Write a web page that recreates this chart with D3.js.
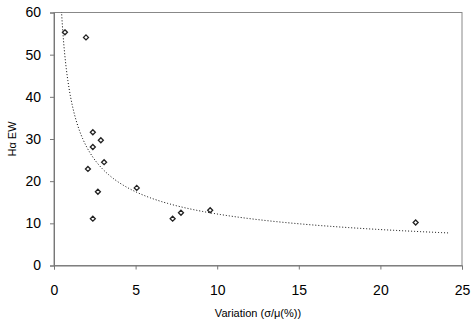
<!DOCTYPE html>
<html lang="en">
<head>
<meta charset="utf-8">
<title>Halpha EW vs variation</title>
<script src="https://d3js.org/d3.v7.min.js"></script>
<style>
  body { margin: 0; background: #fff; }
  text { font-family: "Liberation Sans", Arial, sans-serif; fill: #000; }
</style>
</head>
<body>
<script>
// data
var variation = [0.67, 1.96, 2.38, 2.87, 2.38, 3.07, 2.08, 2.69, 2.38, 5.07, 7.27, 7.78, 9.57, 22.16];
var haEW      = [55.3, 54.1, 31.6, 29.7, 28.1, 24.5, 22.9, 17.5, 11.1, 18.4, 11.1, 12.5, 13.1, 10.2];
var xTicks = [0, 5, 10, 15, 20, 25];
var yTicks = [0, 10, 20, 30, 40, 50, 60];

var w = 471, h = 327;
var margin = {top: 12.5, right: 9, bottom: 61.5, left: 54};
var innerWidth = w - margin.left - margin.right;
var innerHeight = h - margin.top - margin.bottom;

var xScale = d3.scaleLinear().domain([0, 25]).range([0, innerWidth]);
var yScale = d3.scaleLinear().domain([0, 60]).range([innerHeight, 0]);

var svg = d3.select("body").append("svg")
    .attr("width", w)
    .attr("height", h);

var g = svg.append("g")
    .attr("transform", `translate(${margin.left},${margin.top})`);

svg.append("defs").append("clipPath").attr("id", "plotclip")
  .append("rect").attr("width", innerWidth).attr("height", innerHeight);

// frame (top + right)
g.append("rect")
    .attr("width", innerWidth)
    .attr("height", innerHeight)
    .attr("fill", "none")
    .attr("stroke", "#888")
    .attr("stroke-width", 1);

// axes
var xAxis = d3.axisBottom(xScale).tickValues(xTicks).tickSize(4).tickPadding(16);
var yAxis = d3.axisLeft(yScale).tickValues(yTicks).tickSize(4).tickPadding(9);

var gx = g.append("g").attr("transform", `translate(0,${innerHeight})`).call(xAxis);
var gy = g.append("g").call(yAxis);
[gx, gy].forEach(function(a){
  a.selectAll("path, line").attr("stroke", "#777");
  a.selectAll("text").attr("font-size", "14px").attr("font-family", "Liberation Sans, Arial, sans-serif");
});

// power trendline  y = a * x^b  (least squares on logs)
var lx = variation.map(Math.log), ly = haEW.map(Math.log);
var mx = d3.mean(lx), my = d3.mean(ly);
var b = d3.sum(lx, function(d, i){ return (d - mx) * (ly[i] - my); }) /
        d3.sum(lx, function(d){ return (d - mx) * (d - mx); });
var a = Math.exp(my - b * mx);
var fit = d3.range(0.3, 24.2, 0.05).concat([24.2]).map(function(x){ return [x, a * Math.pow(x, b)]; });

g.append("path")
    .datum(fit)
    .attr("clip-path", "url(#plotclip)")
    .attr("fill", "none")
    .attr("stroke", "#000")
    .attr("stroke-width", 1)
    .attr("stroke-dasharray", "1,2")
    .attr("d", d3.line()
        .x(function(d){ return xScale(d[0]); })
        .y(function(d){ return yScale(d[1]); }));

// points
g.selectAll(".pt")
    .data(variation)
    .enter()
    .append("path")
    .attr("class", "pt")
    .attr("transform", function(d, i){ return `translate(${xScale(d)},${yScale(haEW[i])})`; })
    .attr("d", "M0,-2.5L2.5,0L0,2.5L-2.5,0Z")
    .attr("fill", "#fff")
    .attr("stroke", "#222")
    .attr("stroke-width", 1.3);

// axis titles
svg.append("text")
    .attr("x", margin.left + innerWidth / 2)
    .attr("y", 317)
    .attr("text-anchor", "middle")
    .attr("font-size", "11px")
    .text("Variation (σ/μ(%))");

svg.append("text")
    .attr("transform", `translate(16,${margin.top + innerHeight / 2}) rotate(-90)`)
    .attr("text-anchor", "middle")
    .attr("font-size", "11px")
    .text("Hα EW");
</script>
</body>
</html>
